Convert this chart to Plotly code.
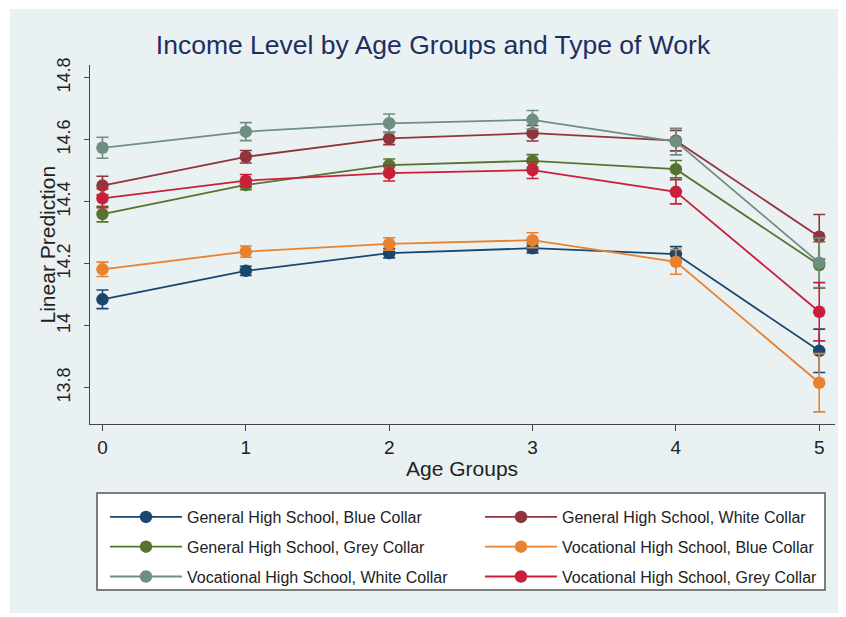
import plotly.graph_objects as go

ages = [0, 1, 2, 3, 4, 5]
y_tick_vals = [13.8, 14.0, 14.2, 14.4, 14.6, 14.8]
y_tick_text = ["13.8", "14", "14.2", "14.4", "14.6", "14.8"]

names = [
    "General High School, Blue Collar",
    "General High School, White Collar",
    "General High School, Grey Collar",
    "Vocational High School, Blue Collar",
    "Vocational High School, White Collar",
    "Vocational High School, Grey Collar",
]
colors = ["#1a476f", "#90353b", "#55752f", "#e8822e", "#6e8e84", "#c9203a"]

gen_blue = [14.085, 14.177, 14.234, 14.250, 14.231, 13.919]
gen_white = [14.452, 14.545, 14.604, 14.621, 14.597, 14.287]
gen_grey = [14.360, 14.454, 14.518, 14.532, 14.505, 14.196]
voc_blue = [14.182, 14.239, 14.264, 14.276, 14.206, 13.816]
voc_white = [14.574, 14.626, 14.653, 14.664, 14.594, 14.203]
voc_grey = [14.411, 14.468, 14.492, 14.502, 14.432, 14.045]

gen_blue_ci = [0.030, 0.015, 0.015, 0.015, 0.024, 0.070]
gen_white_ci = [0.030, 0.020, 0.020, 0.025, 0.033, 0.072]
gen_grey_ci = [0.025, 0.015, 0.020, 0.020, 0.028, 0.075]
voc_blue_ci = [0.023, 0.018, 0.020, 0.024, 0.040, 0.094]
voc_white_ci = [0.034, 0.029, 0.030, 0.030, 0.043, 0.080]
voc_grey_ci = [0.030, 0.020, 0.025, 0.027, 0.039, 0.094]

values = [gen_blue, gen_white, gen_grey, voc_blue, voc_white, voc_grey]
cis = [gen_blue_ci, gen_white_ci, gen_grey_ci, voc_blue_ci, voc_white_ci, voc_grey_ci]

FONT = "Liberation Sans, Arial, Helvetica, sans-serif"

# plot area in pixels
W, H = 846, 617
L, R, T, B = 90, 11, 65, 193
PW, PH = W - L - R, H - T - B


def px(xp):
    return (xp - L) / PW


def py(yp):
    return (H - B - yp) / PH


fig = go.Figure()
for i, (nm, col, v, ci) in enumerate(zip(names, colors, values, cis)):
    fig.add_trace(go.Scatter(
        x=ages, y=v, name=nm, mode="lines+markers",
        line=dict(color=col, width=1.8),
        marker=dict(color=col, size=12.5, symbol="circle"),
        error_y=dict(type="data", array=ci, visible=True, color=col,
                     thickness=1.6, width=6),
        legend="legend" if i % 2 == 0 else "legend2",
        legendgroup=nm,
    ))

shapes = [
    dict(type="rect", xref="paper", yref="paper", layer="below",
         x0=px(10), x1=px(838), y0=py(613), y1=py(9),
         fillcolor="#eaf1f3", line=dict(width=0)),
    dict(type="rect", xref="paper", yref="paper", layer="below",
         x0=px(97), x1=px(825), y0=py(590), y1=py(493),
         fillcolor="white", line=dict(color="#555555", width=1.5)),
]

legend_common = dict(
    orientation="v", bgcolor="rgba(0,0,0,0)", borderwidth=0,
    font=dict(family=FONT, size=16, color="#222222"),
    tracegroupgap=6, itemwidth=72, xanchor="left", yanchor="top",
    itemclick=False, itemdoubleclick=False,
)

fig.update_layout(
    width=W, height=H,
    margin=dict(l=L, r=R, t=T, b=B, autoexpand=False),
    paper_bgcolor="white", plot_bgcolor="white",
    font=dict(family=FONT, color="#222222"),
    title=dict(text="Income Level by Age Groups and Type of Work",
               font=dict(family=FONT, size=26.5, color="#1e2f5f"),
               x=433 / W, xref="container", xanchor="center",
               y=1 - 45 / H, yref="container", yanchor="middle"),
    xaxis=dict(range=[-0.087, 5.11], tickvals=ages, ticktext=[str(a) for a in ages],
               showgrid=False, zeroline=False, showline=True, linecolor="#444444",
               linewidth=1, ticks="outside", ticklen=6, tickcolor="#444444",
               tickfont=dict(family=FONT, size=19, color="#222222")),
    yaxis=dict(range=[13.683, 14.841], tickvals=y_tick_vals, ticktext=y_tick_text,
               showgrid=True, gridcolor="#e6eef0", gridwidth=1.2, zeroline=False,
               showline=True, linecolor="#444444", linewidth=1, ticks="outside",
               ticklen=5, tickcolor="#444444", tickangle=-90, ticklabelstandoff=7,
               tickfont=dict(family=FONT, size=18, color="#222222")),
    legend=dict(x=px(105), y=py(500), **legend_common),
    legend2=dict(x=px(480), y=py(500), **legend_common),
    shapes=shapes,
    annotations=[
        dict(text="Linear Prediction", xref="paper", yref="paper",
             x=px(47), y=0.5, textangle=-90, showarrow=False,
             xanchor="center", yanchor="middle",
             font=dict(family=FONT, size=21, color="#222222")),
        dict(text="Age Groups", xref="paper", yref="paper",
             x=px(462), y=py(468), showarrow=False,
             xanchor="center", yanchor="middle",
             font=dict(family=FONT, size=21, color="#222222")),
    ],
)

fig.write_html("out.html")
